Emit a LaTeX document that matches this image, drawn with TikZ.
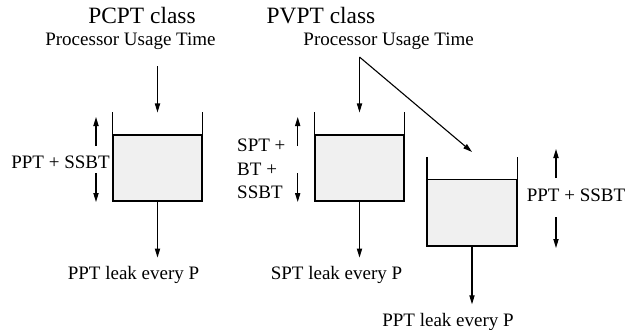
\documentclass[tikz,border=0pt]{standalone}
\usepackage{fontspec}
\setmainfont{Liberation Serif}
\usepackage{tikz}
\usetikzlibrary{
    positioning,
    arrows.meta
}
\tikzset{
    >={Triangle[length=4.5pt,width=2.6pt]},
    cubo/.style={
        draw,
        fill=black!6,
        minimum width=44.5pt,
        minimum height=33pt,
        inner sep=0pt
    },
    titulo/.style={
        font=\fontsize{11.7}{14}\selectfont,
        anchor=base
    },
    etiqueta/.style={
        font=\fontsize{9.5}{11.65}\selectfont,
        anchor=base
    },
    fuga/.style={
        etiqueta,
        inner sep=4pt
    }
}

\begin{document}
\begin{tikzpicture}[
    x=0.5pt,
    y=-0.5pt,
    line width=0.55pt
]
    \useasboundingbox (0,0) rectangle (637,329);

    % Titulos
    \node[titulo]   (pcpt) at (142,23.3)   {PCPT class};
    \node[titulo]   (pvpt) at (321,23.3)   {PVPT class};
    \node[etiqueta] (uso1) at (130.5,45.7) {Processor Usage Time};
    \node[etiqueta] (uso2) at (388.6,45.7) {Processor Usage Time};

    % Depositos
    \node[cubo] (dep1) at (157.5,168)  {};
    \node[cubo] (dep2) at (359.5,168)  {};
    \node[cubo] (dep3) at (472,212.5)  {};
    \foreach \d in {dep1,dep2,dep3}
        \draw ([yshift=11pt]\d.north west) -- (\d.south west)
            -- (\d.south east) -- ([yshift=11pt]\d.north east);

    % Entradas
    \coordinate (in1) at (157.5,66);
    \coordinate (in2) at (359.5,57);
    \draw[->] (in1) -- ([yshift=11pt]dep1.north);
    \draw[->] (in2) -- ([yshift=11pt]dep2.north);
    \draw[->] (in2) -- ([yshift=13.5pt]dep3.north);

    % Salidas
    \node[fuga] (fuga1) at (133.5,279.3) {PPT leak every P};
    \node[fuga] (fuga2) at (336.5,279.3) {SPT leak every P};
    \node[fuga] (fuga3) at (448,326)     {PPT leak every P};
    \draw[->] (dep1.south) -- (dep1.south |- fuga1.north);
    \draw[->] (dep2.south) -- (dep2.south |- fuga2.north);
    \draw[->] (dep3.south) -- (dep3.south |- fuga3.north);

    % Niveles
    \node[etiqueta] (niv1) at (60.5,168.3) {PPT + SSBT};
    \node[etiqueta, align=left, anchor=base west] (niv2) at (230,198.3)
        {SPT +\\BT +\\SSBT};
    \node[etiqueta] (niv3) at (576,201.7) {PPT + SSBT};
    \draw[->] (96,146)    -- (96,117);
    \draw[->] (96,173)    -- (96,202);
    \draw[->] (297.7,146) -- (297.7,117);
    \draw[->] (297.7,173) -- (297.7,202);
    \draw[->] (556,178)   -- (556,149);
    \draw[->] (556,217)   -- (556,248);

\end{tikzpicture}
\end{document}
